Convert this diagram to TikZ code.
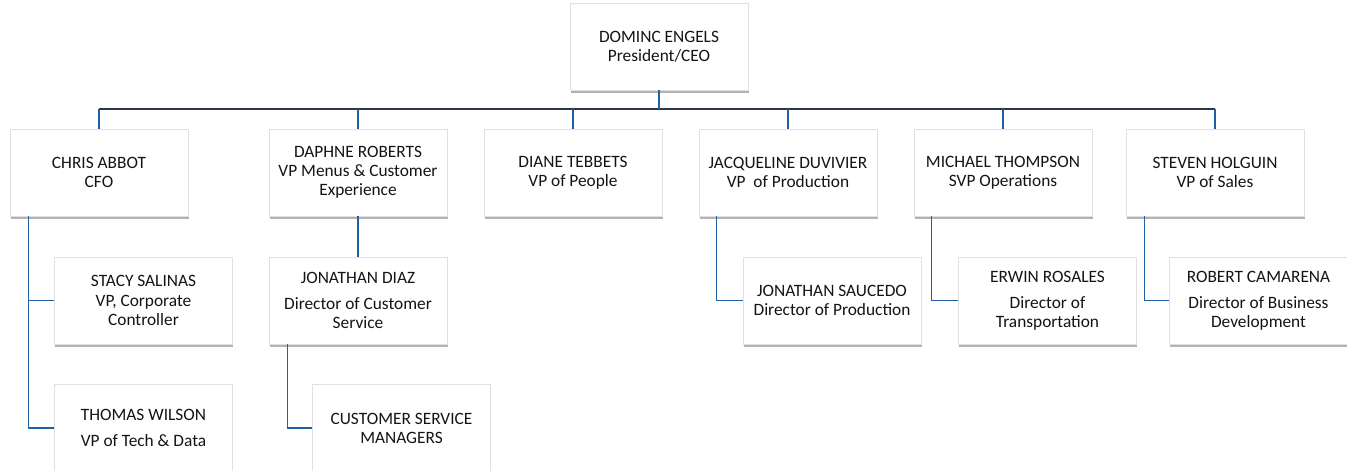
\documentclass[tikz,border=0pt]{standalone}
\usepackage{fontspec}
\setmainfont{Carlito}
\usepackage{tikz}
\usetikzlibrary{shadows}
\usepackage{xcolor}
\definecolor{linkblue}{RGB}{30,96,168}
\definecolor{busgray}{RGB}{45,55,70}

\begin{document}
\begin{tikzpicture}[x=0.75pt, y=-0.75pt,
  box/.style={rectangle, draw=black!12, fill=white, text=black!92, align=center,
    minimum width=133.5pt, minimum height=65pt, inner sep=2pt,
    font=\fontsize{13}{14.3}\selectfont,
    drop shadow={shadow xshift=0.4pt, shadow yshift=-2.4pt, fill=black!50, opacity=.6}},
  link/.style={draw=linkblue, line width=0.9pt},
  bus/.style={draw=busgray, line width=0.9pt}]
  \useasboundingbox (0,0) rectangle (1347,471);

  % top
  \node[box] (ceo) at (659,46.5) {DOMINC ENGELS\\President/CEO};

  % vice presidents
  \node[box] (chris)   at (99,172.5)   {CHRIS ABBOT\\CFO};
  \node[box] (daphne)  at (358,172.5)  {DAPHNE ROBERTS\\VP Menus \& Customer\\Experience};
  \node[box] (diane)   at (573,172.5)  {DIANE TEBBETS\\VP of People};
  \node[box] (jacq)    at (788,172.5)  {JACQUELINE DUVIVIER\\VP~~of Production};
  \node[box] (michael) at (1003,172.5) {MICHAEL THOMPSON\\SVP Operations};
  \node[box] (steven)  at (1215,172.5) {STEVEN HOLGUIN\\VP of Sales};

  % directors
  \node[box] (stacy)   at (143.5,300.5)  {STACY SALINAS\\VP, Corporate\\Controller};
  \node[box] (diaz)    at (358,300.5)    {JONATHAN DIAZ\\[5pt]Director of Customer\\Service};
  \node[box] (saucedo) at (832,300.5)    {JONATHAN SAUCEDO\\Director of Production};
  \node[box] (erwin)   at (1047.5,300.5) {ERWIN ROSALES\\[5pt]Director of\\Transportation};
  \node[box] (robert)  at (1258.5,300.5) {ROBERT CAMARENA\\[5pt]Director of Business\\Development};

  \node[box] (thomas)  at (143.5,428) {THOMAS WILSON\\[5pt]VP of Tech \& Data};
  \node[box] (csm)     at (401.5,428) {CUSTOMER SERVICE\\MANAGERS};

  % bus from the ceo
  \coordinate (busl) at (99,109);
  \coordinate (busr) at (1215,109);
  \draw[bus] (busl) -- (busr);
  \draw[link] (ceo.south) -- (ceo.south |- busl);
  \foreach \vp in {chris,daphne,diane,jacq,michael,steven}
    \draw[link] (\vp.north |- busl) -- (\vp.north);

  % reports
  \draw[link] (chris.south west) ++(19,0) |- (stacy.west);
  \draw[link] (chris.south west) ++(19,0) |- (thomas.west);
  \draw[link] (daphne.south) -- (diaz.north);
  \draw[link] (diaz.south west) ++(19,0) |- (csm.west);
  \draw[link] (jacq.south west) ++(18,0) |- (saucedo.west);
  \draw[link] (michael.south west) ++(18,0) |- (erwin.west);
  \draw[link] (steven.south west) ++(19,0) |- (robert.west);
\end{tikzpicture}
\end{document}
